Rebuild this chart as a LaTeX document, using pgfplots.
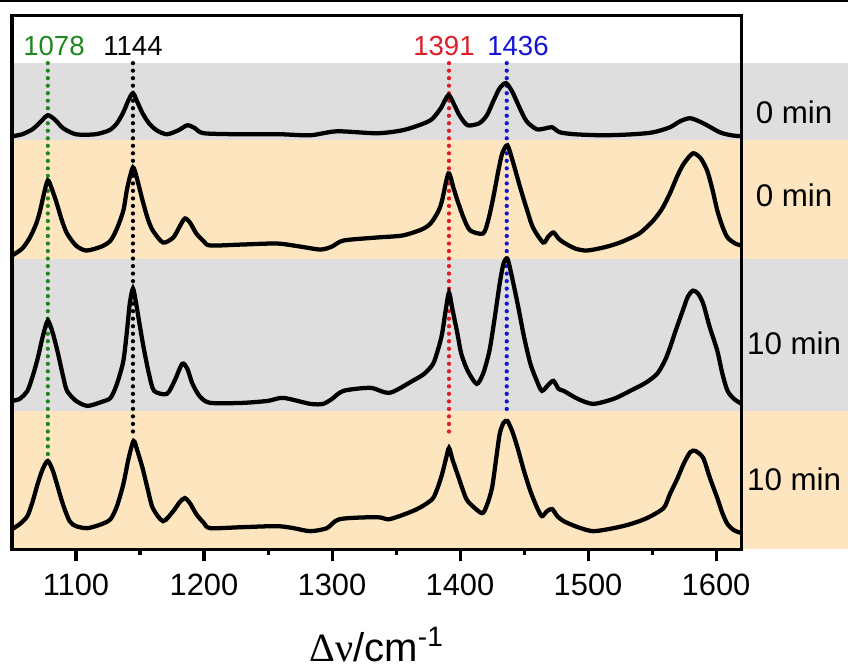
\documentclass[border=0pt]{standalone}
\usepackage{fontspec}
\setmainfont{Liberation Sans}
\newfontfamily\greekfont{Liberation Serif}
\usepackage{pgfplots}
\pgfplotsset{compat=1.18}
\definecolor{bandgray}{RGB}{222,222,222}
\definecolor{bandorange}{RGB}{253,229,192}
\definecolor{pkgreen}{RGB}{30,135,30}
\definecolor{pkred}{RGB}{220,30,40}
\definecolor{pkblue}{RGB}{20,20,210}

\begin{document}
\begin{tikzpicture}[
  spec/.style={black, line width=1.7pt, smooth, tension=0.45},
  mark line/.style={line width=1.7pt, dash pattern=on 0pt off 3pt, line cap=round},
]
\begin{axis}[
  scale only axis, width=291.2pt, height=213.2pt,
  xmin=1050, xmax=1620, ymin=0, ymax=533,
  xtick={1100,1200,...,1600}, minor x tick num=1,
  ytick=\empty, xtick pos=left,
  tick align=outside,
  major tick length=4.8pt, minor tick length=2.4pt,
  every tick/.style={black, line width=1.2pt},
  axis line style={line width=1.2pt},
  axis on top, clip=false,
  tick label style={font=\fontsize{12.3}{14}\selectfont},
  xticklabel style={yshift=-1.5pt},
  /pgf/number format/assume math mode=true,
  /pgf/number format/1000 sep={},
  xlabel={{\greekfont Δν}/cm\textsuperscript{-1}},
  xlabel style={at={(axis description cs:0.5,0)}, anchor=base, yshift=-45pt,
    font=\fontsize{16}{18}\selectfont},
]
% background bands (pixel-height units)
\fill[bandgray]   (axis cs:1050,408) rectangle (axis cs:1703.1,485);
\fill[bandorange] (axis cs:1050,290) rectangle (axis cs:1703.1,408);
\fill[bandgray]   (axis cs:1050,138) rectangle (axis cs:1703.1,290);
\fill[bandorange] (axis cs:1050,0)   rectangle (axis cs:1703.1,138);
\draw[line width=0.8pt] (axis cs:1040.6,547.2) -- (axis cs:1703.1,547.2);
\coordinate (bbl) at (axis cs:1040.625,-122);
\coordinate (btr) at (axis cs:1703.125,548);

% peak marker lines
\draw[pkgreen, mark line] (axis cs:1078,485) -- (axis cs:1078,90);
\draw[black, mark line] (axis cs:1144.5,485) -- (axis cs:1144.5,110);
\draw[pkred, mark line] (axis cs:1391.4,485) -- (axis cs:1391.4,110);
\draw[pkblue, mark line] (axis cs:1436.5,485) -- (axis cs:1436.5,136);

% spectrum 1 (0 min, top)
\addplot[spec] coordinates {
(1050,412) (1058,414) (1066,419) (1072,426) (1078,433) (1084,428) (1090,420)
(1100,414) (1115,414) (1126,418) (1132,425) (1137,436) (1141,448) (1144.5,455)
(1148,446) (1152,435) (1157,425) (1163,418) (1171,414) (1180,418) (1187,423)
(1193,420) (1200,415) (1230,414) (1260,414) (1283,413) (1304,417) (1335,415)
(1355,418) (1370,424) (1378,429) (1385,440) (1391,453) (1396,442) (1400,432)
(1406,423) (1415,425) (1421,433) (1426,447) (1431,460) (1436,465) (1441,456)
(1446,442) (1452,427) (1460,419) (1467,420) (1472,421) (1478,416) (1490,414)
(1512,413) (1535,414) (1551,416) (1564,421) (1572,427) (1580,430) (1590,425)
(1603,416) (1612,413) (1620,412)};

% spectrum 2 (0 min)
\addplot[spec] coordinates {
(1050,293) (1058,300) (1064,311) (1069,325) (1072,338) (1075,355) (1078,368)
(1081,360) (1085,345) (1089,328) (1093,315) (1100,303) (1108,298) (1120,302)
(1127,308) (1132,320) (1137,338) (1140,360) (1144.5,381) (1148,368) (1152,348)
(1156,330) (1160,318) (1168,306) (1176,311) (1181,322) (1185,330) (1189,326)
(1194,315) (1200,307) (1205,303) (1230,304) (1257,305) (1275,302) (1291,299)
(1300,302) (1309,308) (1335,311) (1355,313) (1370,319) (1377,325) (1383,337)
(1386,348) (1391,375) (1395,360) (1398,348) (1403,330) (1408,318) (1418,315)
(1422,328) (1426,351) (1430,378) (1433,395) (1437,403) (1441,388) (1447,361)
(1452,340) (1457,321) (1465,306) (1469,312) (1473,316) (1477,310) (1481,306)
(1490,300) (1499,298) (1512,301) (1525,306) (1540,315) (1551,328) (1558,340)
(1564,355) (1570,373) (1575,385) (1582,395) (1588,390) (1593,378) (1597,360)
(1601,338) (1605,322) (1609,311) (1615,305) (1620,303)};

% spectrum 3 (10 min)
\addplot[spec] coordinates {
(1050,148) (1056,150) (1062,158) (1066,172) (1070,190) (1074,212) (1078,228)
(1082,215) (1086,195) (1090,172) (1093,158) (1100,148) (1109,143) (1120,147)
(1127,151) (1132,165) (1137,188) (1140,220) (1142,245) (1144.5,260) (1147,245)
(1150,222) (1153,200) (1157,175) (1161,158) (1171,155) (1177,168) (1183,185)
(1187,180) (1191,165) (1197,152) (1205,146) (1230,146) (1250,148) (1262,151)
(1283,145) (1293,145) (1300,150) (1309,158) (1330,161) (1345,156) (1363,168)
(1372,175) (1379,185) (1383,200) (1386,215) (1389,240) (1391.4,256) (1394,240)
(1398,215) (1401,195) (1406,178) (1413,165) (1418,175) (1423,198) (1427,230)
(1431,265) (1434,285) (1437,290) (1440,275) (1445,245) (1450,212) (1455,185)
(1460,168) (1464,158) (1469,164) (1473,168) (1477,160) (1481,158) (1492,150)
(1504,145) (1520,150) (1533,158) (1545,166) (1554,175) (1560,188) (1564,201)
(1569,220) (1574,238) (1578,252) (1582,258) (1586,255) (1590,245) (1595,222)
(1601,198) (1605,175) (1609,158) (1614,150) (1620,145)};

% spectrum 4 (10 min, bottom)
\addplot[spec] coordinates {
(1050,20) (1056,25) (1062,33) (1066,47) (1070,65) (1074,80) (1078,88)
(1082,78) (1086,61) (1090,44) (1095,28) (1100,23) (1109,21) (1120,25)
(1127,30) (1132,43) (1137,65) (1141,90) (1145,108) (1148,98) (1152,81)
(1156,60) (1160,41) (1168,28) (1176,38) (1181,47) (1185,51) (1189,46)
(1194,35) (1200,26) (1205,21) (1230,22) (1257,23) (1270,21) (1283,18)
(1296,21) (1306,30) (1335,32) (1345,30) (1363,38) (1372,44) (1379,51)
(1383,63) (1386,75) (1389,90) (1391.4,101) (1394,90) (1398,75) (1402,60)
(1406,48) (1417,36) (1421,44) (1425,61) (1428,88) (1431,115) (1434,126)
(1437,128) (1441,117) (1445,101) (1450,78) (1455,58) (1460,42) (1464,33)
(1468,38) (1472,40) (1476,33) (1481,28) (1492,22) (1504,18) (1520,21)
(1533,25) (1546,31) (1559,41) (1564,55) (1570,71) (1575,86) (1580,97)
(1584,98) (1590,91) (1595,72) (1601,51) (1605,36) (1609,25) (1614,19)
(1620,16)};

% peak labels
\node[font=\fontsize{11}{13}\selectfont, text=pkgreen] at (axis cs:1082.8,502) {1078};
\node[font=\fontsize{11}{13}\selectfont, text=black] at (axis cs:1144.5,502) {1144};
\node[font=\fontsize{11}{13}\selectfont, text=pkred] at (axis cs:1387.5,502) {1391};
\node[font=\fontsize{11}{13}\selectfont, text=pkblue] at (axis cs:1445.3,502) {1436};

% time labels
\node[font=\fontsize{12.5}{14}\selectfont] at (axis cs:1661,436) {0 min};
\node[font=\fontsize{12.5}{14}\selectfont] at (axis cs:1661,353) {0 min};
\node[font=\fontsize{12.5}{14}\selectfont] at (axis cs:1661,205) {10 min};
\node[font=\fontsize{12.5}{14}\selectfont] at (axis cs:1661,70) {10 min};
\end{axis}
\pgfresetboundingbox
\path[use as bounding box] (bbl) rectangle (btr);
\end{tikzpicture}
\end{document}
